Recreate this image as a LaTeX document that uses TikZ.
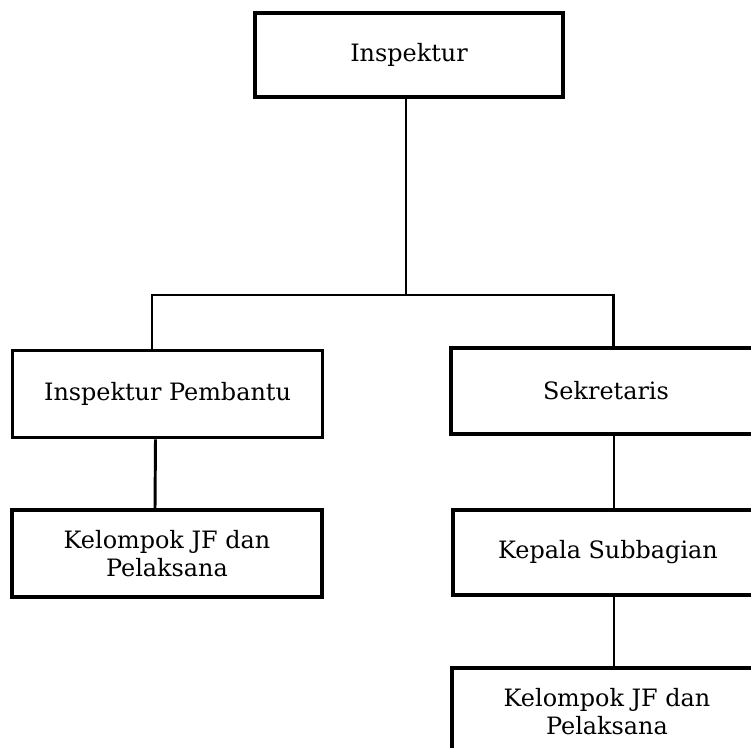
\documentclass[tikz,border=0pt]{standalone}
\usepackage{fontspec}
\setmainfont{DejaVu Serif}
\usetikzlibrary{positioning}

\begin{document}
\begin{tikzpicture}[x=0.025cm,y=-0.025cm,
  unit/.style={draw, line width=2.6pt, inner sep=0pt, align=center,
    minimum width=7.75cm, minimum height=2.18cm,
    font=\fontsize{17}{20}\selectfont},
  link/.style={line width=2.1pt}]
 \useasboundingbox (0,0) rectangle (751,748);
 \clip (0,0) rectangle (751,748);
 \fill[white] (0,0) rectangle (751,748);
% kotak jabatan
\node [unit, minimum width=7.7cm, minimum height=2.1cm] (insp) at (409,55) {Inspektur};
\node [unit] (pemb) at (167.5,394) {Inspektur Pembantu};
\node [unit] (jfa) at (167,553.5) {Kelompok JF dan\\Pelaksana};
\node [unit, minimum height=2.15cm] (sek) at (606,391) {Sekretaris};
\node [unit, minimum height=2.13cm] (kasub) at (608,552.5) {Kepala Subbagian};
\node [unit] (jfb) at (607,711.5) {Kelompok JF dan\\Pelaksana};
% garis
 \coordinate (bar) at (406,295);
 \draw[link] (insp.south -| bar) -- (bar);
 \draw[link] ([xshift=-15.5*0.025cm]pemb.north) |- (bar) -| ([xshift=7.5*0.025cm]sek.north);
 \draw[link] ([xshift=-12*0.025cm]pemb.south) -- ([xshift=-12*0.025cm]jfa.north);
 \draw[link] ([xshift=8*0.025cm]sek.south) -- ([xshift=8*0.025cm]sek.south |- kasub.north);
 \draw[link] ([xshift=6*0.025cm]kasub.south) -- ([xshift=6*0.025cm]kasub.south |- jfb.north);
\end{tikzpicture}
\end{document}
